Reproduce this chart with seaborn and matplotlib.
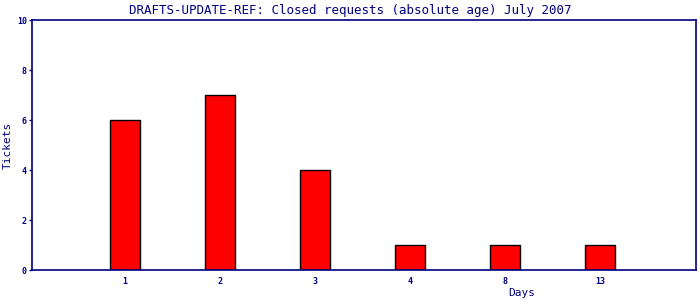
import matplotlib
matplotlib.use("Agg")
import matplotlib.pyplot as plt
import seaborn as sns
import pandas as pd

days = ["1", "2", "3", "4", "8", "13"]
tickets = [6, 7, 4, 1, 1, 1]
title = "DRAFTS-UPDATE-REF: Closed requests (absolute age) July 2007"

sns.set_style("white")
plt.rcParams["font.family"] = ["DejaVu Sans Mono", "DejaVu Sans"]
navy = "#000080"

df = pd.DataFrame({"Days": days, "Tickets": tickets})
fig = plt.figure(figsize=(7, 3), dpi=100)
ax = fig.add_axes([32 / 700, 30 / 300, 664 / 700, 250 / 300])
sns.barplot(data=df, x="Days", y="Tickets", order=days, color="#ff0000",
            saturation=1, width=0.31, edgecolor="black", linewidth=1, ax=ax)
ax.set_xlim(-0.98, 6.01)
ax.set_ylim(0, 10)
ax.set_yticks([0, 2, 4, 6, 8, 10])
for s in ax.spines.values():
    s.set_color(navy)
    s.set_linewidth(1.2)
    s.set_visible(True)
ax.tick_params(axis="y", direction="out", length=2.2, width=1, color=navy,
               labelsize=6, labelcolor=navy, pad=1.5, left=True)
ax.tick_params(axis="x", length=0, labelsize=6, labelcolor=navy, pad=5)
for lbl in ax.get_xticklabels() + ax.get_yticklabels():
    lbl.set_fontweight("bold")
ax.set_xlabel("Days", color=navy, fontsize=8)
ax.xaxis.set_label_coords(0.738, -0.07)
ax.set_ylabel("Tickets", color=navy, fontsize=8)
ax.yaxis.set_label_coords(-0.029, 0.5)
ax.set_title(title, color=navy, fontsize=9, pad=4, x=0.479)
fig.savefig("out.png", dpi=100)
